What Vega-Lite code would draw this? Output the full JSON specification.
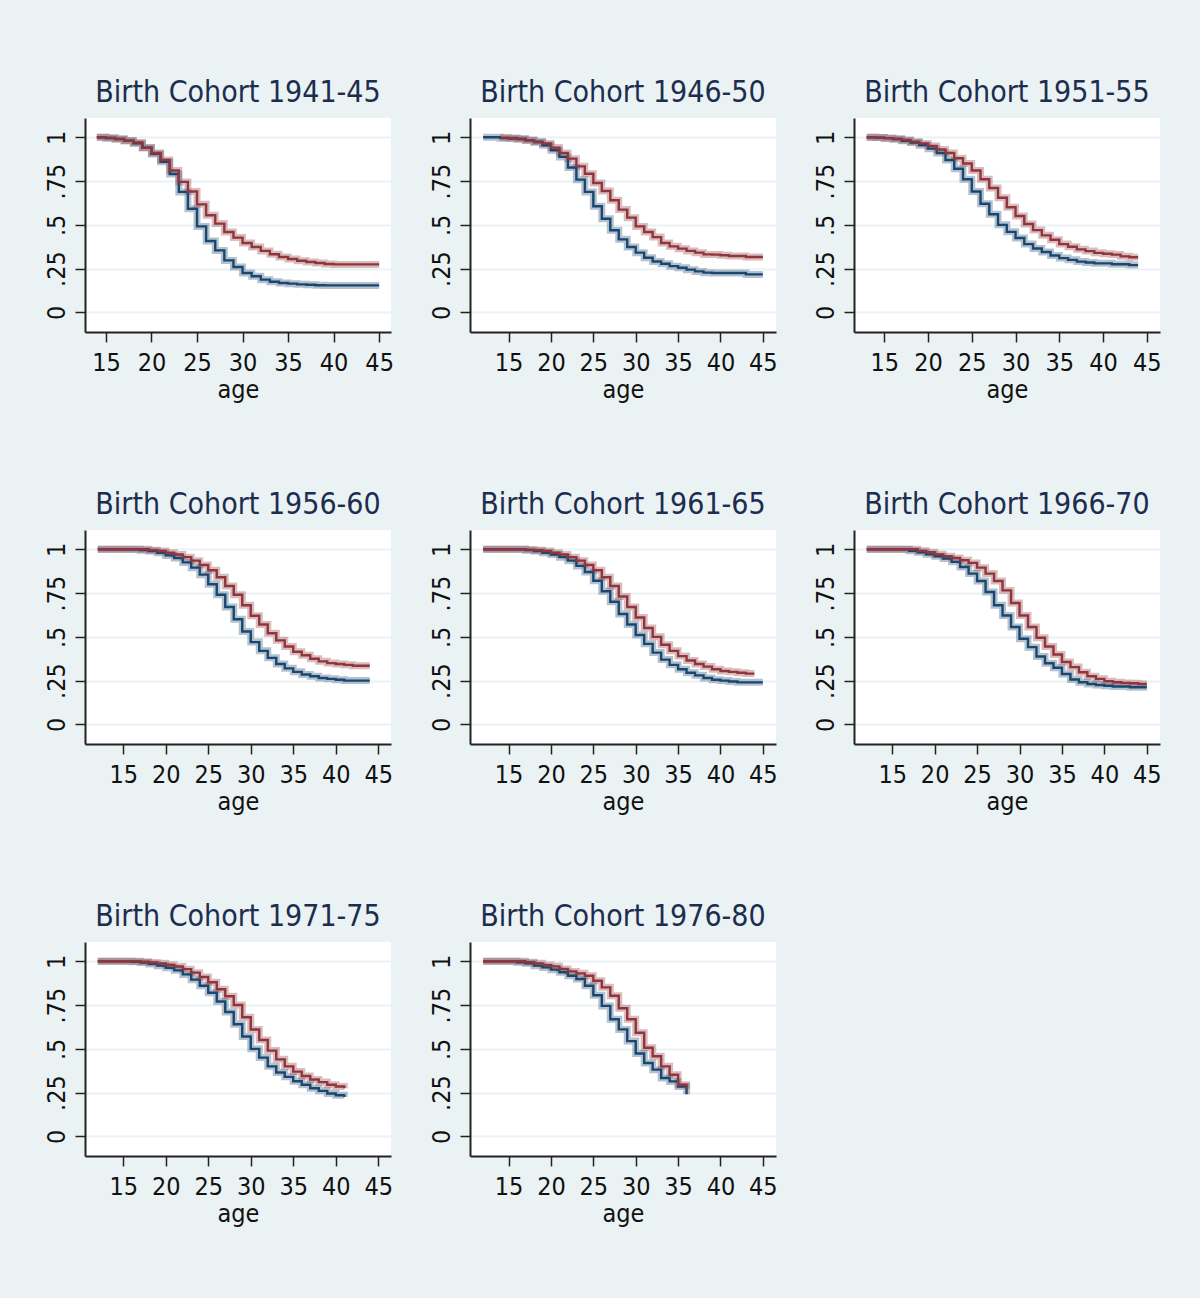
{
"$schema": "https://vega.github.io/schema/vega-lite/v6.json",
"background": "#EAF2F3",
"padding": {"left": 44, "top": 78, "right": 50, "bottom": 80},
"columns": 3,
"spacing": {"row": 88, "column": 35},
"datasets": {"km": [
{"cohort":"1941-45","age":14,"blue":1,"red":1},
{"cohort":"1941-45","age":15,"blue":0.996,"red":0.996},
{"cohort":"1941-45","age":16,"blue":0.99,"red":0.99},
{"cohort":"1941-45","age":17,"blue":0.98,"red":0.98},
{"cohort":"1941-45","age":18,"blue":0.965,"red":0.97},
{"cohort":"1941-45","age":19,"blue":0.94,"red":0.94},
{"cohort":"1941-45","age":20,"blue":0.905,"red":0.91},
{"cohort":"1941-45","age":21,"blue":0.86,"red":0.87},
{"cohort":"1941-45","age":22,"blue":0.79,"red":0.81},
{"cohort":"1941-45","age":23,"blue":0.688,"red":0.745},
{"cohort":"1941-45","age":24,"blue":0.592,"red":0.69},
{"cohort":"1941-45","age":25,"blue":0.491,"red":0.617},
{"cohort":"1941-45","age":26,"blue":0.408,"red":0.555},
{"cohort":"1941-45","age":27,"blue":0.354,"red":0.507},
{"cohort":"1941-45","age":28,"blue":0.297,"red":0.459},
{"cohort":"1941-45","age":29,"blue":0.259,"red":0.427},
{"cohort":"1941-45","age":30,"blue":0.225,"red":0.396},
{"cohort":"1941-45","age":31,"blue":0.206,"red":0.373},
{"cohort":"1941-45","age":32,"blue":0.187,"red":0.351},
{"cohort":"1941-45","age":33,"blue":0.175,"red":0.332},
{"cohort":"1941-45","age":34,"blue":0.168,"red":0.316},
{"cohort":"1941-45","age":35,"blue":0.164,"red":0.305},
{"cohort":"1941-45","age":36,"blue":0.16,"red":0.295},
{"cohort":"1941-45","age":37,"blue":0.158,"red":0.288},
{"cohort":"1941-45","age":38,"blue":0.155,"red":0.282},
{"cohort":"1941-45","age":39,"blue":0.154,"red":0.276},
{"cohort":"1941-45","age":40,"blue":0.154,"red":0.274},
{"cohort":"1941-45","age":41,"blue":0.154,"red":0.274},
{"cohort":"1941-45","age":42,"blue":0.154,"red":0.274},
{"cohort":"1941-45","age":43,"blue":0.154,"red":0.274},
{"cohort":"1941-45","age":44,"blue":0.154,"red":0.274},
{"cohort":"1941-45","age":45,"blue":0.154,"red":0.274},
{"cohort":"1946-50","age":12,"blue":1,"red":null},
{"cohort":"1946-50","age":13,"blue":1,"red":null},
{"cohort":"1946-50","age":14,"blue":0.995,"red":0.998},
{"cohort":"1946-50","age":15,"blue":0.993,"red":0.996},
{"cohort":"1946-50","age":16,"blue":0.992,"red":0.989},
{"cohort":"1946-50","age":17,"blue":0.983,"red":0.983},
{"cohort":"1946-50","age":18,"blue":0.975,"red":0.971},
{"cohort":"1946-50","age":19,"blue":0.954,"red":0.964},
{"cohort":"1946-50","age":20,"blue":0.926,"red":0.941},
{"cohort":"1946-50","age":21,"blue":0.888,"red":0.91},
{"cohort":"1946-50","age":22,"blue":0.827,"red":0.878},
{"cohort":"1946-50","age":23,"blue":0.758,"red":0.834},
{"cohort":"1946-50","age":24,"blue":0.688,"red":0.792},
{"cohort":"1946-50","age":25,"blue":0.606,"red":0.739},
{"cohort":"1946-50","age":26,"blue":0.535,"red":0.693},
{"cohort":"1946-50","age":27,"blue":0.469,"red":0.64},
{"cohort":"1946-50","age":28,"blue":0.417,"red":0.587},
{"cohort":"1946-50","age":29,"blue":0.373,"red":0.541},
{"cohort":"1946-50","age":30,"blue":0.341,"red":0.491},
{"cohort":"1946-50","age":31,"blue":0.312,"red":0.459},
{"cohort":"1946-50","age":32,"blue":0.291,"red":0.43},
{"cohort":"1946-50","age":33,"blue":0.278,"red":0.396},
{"cohort":"1946-50","age":34,"blue":0.264,"red":0.377},
{"cohort":"1946-50","age":35,"blue":0.255,"red":0.364},
{"cohort":"1946-50","age":36,"blue":0.244,"red":0.351},
{"cohort":"1946-50","age":37,"blue":0.234,"red":0.341},
{"cohort":"1946-50","age":38,"blue":0.227,"red":0.331},
{"cohort":"1946-50","age":39,"blue":0.225,"red":0.33},
{"cohort":"1946-50","age":40,"blue":0.225,"red":0.326},
{"cohort":"1946-50","age":41,"blue":0.225,"red":0.322},
{"cohort":"1946-50","age":42,"blue":0.225,"red":0.322},
{"cohort":"1946-50","age":43,"blue":0.217,"red":0.316},
{"cohort":"1946-50","age":44,"blue":0.217,"red":0.316},
{"cohort":"1946-50","age":45,"blue":0.217,"red":0.316},
{"cohort":"1951-55","age":13,"blue":1,"red":1},
{"cohort":"1951-55","age":14,"blue":0.998,"red":0.998},
{"cohort":"1951-55","age":15,"blue":0.995,"red":0.995},
{"cohort":"1951-55","age":16,"blue":0.99,"red":0.99},
{"cohort":"1951-55","age":17,"blue":0.98,"red":0.985},
{"cohort":"1951-55","age":18,"blue":0.97,"red":0.975},
{"cohort":"1951-55","age":19,"blue":0.955,"red":0.965},
{"cohort":"1951-55","age":20,"blue":0.935,"red":0.95},
{"cohort":"1951-55","age":21,"blue":0.91,"red":0.93},
{"cohort":"1951-55","age":22,"blue":0.87,"red":0.91},
{"cohort":"1951-55","age":23,"blue":0.82,"red":0.88},
{"cohort":"1951-55","age":24,"blue":0.76,"red":0.85},
{"cohort":"1951-55","age":25,"blue":0.69,"red":0.81},
{"cohort":"1951-55","age":26,"blue":0.62,"red":0.76},
{"cohort":"1951-55","age":27,"blue":0.56,"red":0.71},
{"cohort":"1951-55","age":28,"blue":0.5,"red":0.655},
{"cohort":"1951-55","age":29,"blue":0.46,"red":0.6},
{"cohort":"1951-55","age":30,"blue":0.425,"red":0.55},
{"cohort":"1951-55","age":31,"blue":0.39,"red":0.505},
{"cohort":"1951-55","age":32,"blue":0.365,"red":0.47},
{"cohort":"1951-55","age":33,"blue":0.345,"red":0.44},
{"cohort":"1951-55","age":34,"blue":0.325,"red":0.415},
{"cohort":"1951-55","age":35,"blue":0.31,"red":0.39},
{"cohort":"1951-55","age":36,"blue":0.3,"red":0.375},
{"cohort":"1951-55","age":37,"blue":0.29,"red":0.36},
{"cohort":"1951-55","age":38,"blue":0.285,"red":0.35},
{"cohort":"1951-55","age":39,"blue":0.28,"red":0.34},
{"cohort":"1951-55","age":40,"blue":0.28,"red":0.335},
{"cohort":"1951-55","age":41,"blue":0.275,"red":0.33},
{"cohort":"1951-55","age":42,"blue":0.275,"red":0.32},
{"cohort":"1951-55","age":43,"blue":0.27,"red":0.315},
{"cohort":"1951-55","age":44,"blue":0.27,"red":0.315},
{"cohort":"1956-60","age":12,"blue":1,"red":1},
{"cohort":"1956-60","age":13,"blue":1,"red":1},
{"cohort":"1956-60","age":14,"blue":1,"red":1},
{"cohort":"1956-60","age":15,"blue":1,"red":1},
{"cohort":"1956-60","age":16,"blue":1,"red":1},
{"cohort":"1956-60","age":17,"blue":0.995,"red":1},
{"cohort":"1956-60","age":18,"blue":0.99,"red":0.995},
{"cohort":"1956-60","age":19,"blue":0.98,"red":0.99},
{"cohort":"1956-60","age":20,"blue":0.965,"red":0.98},
{"cohort":"1956-60","age":21,"blue":0.95,"red":0.97},
{"cohort":"1956-60","age":22,"blue":0.925,"red":0.955},
{"cohort":"1956-60","age":23,"blue":0.895,"red":0.935},
{"cohort":"1956-60","age":24,"blue":0.855,"red":0.91},
{"cohort":"1956-60","age":25,"blue":0.8,"red":0.88},
{"cohort":"1956-60","age":26,"blue":0.74,"red":0.84},
{"cohort":"1956-60","age":27,"blue":0.67,"red":0.79},
{"cohort":"1956-60","age":28,"blue":0.6,"red":0.74},
{"cohort":"1956-60","age":29,"blue":0.53,"red":0.68},
{"cohort":"1956-60","age":30,"blue":0.47,"red":0.62},
{"cohort":"1956-60","age":31,"blue":0.42,"red":0.57},
{"cohort":"1956-60","age":32,"blue":0.38,"red":0.52},
{"cohort":"1956-60","age":33,"blue":0.345,"red":0.48},
{"cohort":"1956-60","age":34,"blue":0.32,"red":0.445},
{"cohort":"1956-60","age":35,"blue":0.3,"red":0.415},
{"cohort":"1956-60","age":36,"blue":0.285,"red":0.395},
{"cohort":"1956-60","age":37,"blue":0.275,"red":0.375},
{"cohort":"1956-60","age":38,"blue":0.265,"red":0.36},
{"cohort":"1956-60","age":39,"blue":0.26,"red":0.35},
{"cohort":"1956-60","age":40,"blue":0.255,"red":0.345},
{"cohort":"1956-60","age":41,"blue":0.25,"red":0.34},
{"cohort":"1956-60","age":42,"blue":0.25,"red":0.335},
{"cohort":"1956-60","age":43,"blue":0.25,"red":0.335},
{"cohort":"1956-60","age":44,"blue":0.25,"red":0.335},
{"cohort":"1961-65","age":12,"blue":1,"red":1},
{"cohort":"1961-65","age":13,"blue":1,"red":1},
{"cohort":"1961-65","age":14,"blue":1,"red":1},
{"cohort":"1961-65","age":15,"blue":1,"red":1},
{"cohort":"1961-65","age":16,"blue":1,"red":1},
{"cohort":"1961-65","age":17,"blue":0.995,"red":0.998},
{"cohort":"1961-65","age":18,"blue":0.99,"red":0.995},
{"cohort":"1961-65","age":19,"blue":0.98,"red":0.99},
{"cohort":"1961-65","age":20,"blue":0.97,"red":0.98},
{"cohort":"1961-65","age":21,"blue":0.955,"red":0.97},
{"cohort":"1961-65","age":22,"blue":0.935,"red":0.955},
{"cohort":"1961-65","age":23,"blue":0.905,"red":0.935},
{"cohort":"1961-65","age":24,"blue":0.87,"red":0.91},
{"cohort":"1961-65","age":25,"blue":0.82,"red":0.88},
{"cohort":"1961-65","age":26,"blue":0.76,"red":0.84},
{"cohort":"1961-65","age":27,"blue":0.7,"red":0.79},
{"cohort":"1961-65","age":28,"blue":0.63,"red":0.73},
{"cohort":"1961-65","age":29,"blue":0.57,"red":0.67},
{"cohort":"1961-65","age":30,"blue":0.51,"red":0.61},
{"cohort":"1961-65","age":31,"blue":0.46,"red":0.55},
{"cohort":"1961-65","age":32,"blue":0.41,"red":0.5},
{"cohort":"1961-65","age":33,"blue":0.37,"red":0.455},
{"cohort":"1961-65","age":34,"blue":0.34,"red":0.42},
{"cohort":"1961-65","age":35,"blue":0.315,"red":0.39},
{"cohort":"1961-65","age":36,"blue":0.295,"red":0.365},
{"cohort":"1961-65","age":37,"blue":0.28,"red":0.345},
{"cohort":"1961-65","age":38,"blue":0.265,"red":0.33},
{"cohort":"1961-65","age":39,"blue":0.255,"red":0.315},
{"cohort":"1961-65","age":40,"blue":0.25,"red":0.305},
{"cohort":"1961-65","age":41,"blue":0.245,"red":0.3},
{"cohort":"1961-65","age":42,"blue":0.24,"red":0.295},
{"cohort":"1961-65","age":43,"blue":0.24,"red":0.29},
{"cohort":"1961-65","age":44,"blue":0.24,"red":0.29},
{"cohort":"1961-65","age":45,"blue":0.24,"red":null},
{"cohort":"1966-70","age":12,"blue":1,"red":1},
{"cohort":"1966-70","age":13,"blue":1,"red":1},
{"cohort":"1966-70","age":14,"blue":1,"red":1},
{"cohort":"1966-70","age":15,"blue":1,"red":1},
{"cohort":"1966-70","age":16,"blue":1,"red":1},
{"cohort":"1966-70","age":17,"blue":0.991,"red":1},
{"cohort":"1966-70","age":18,"blue":0.983,"red":0.991},
{"cohort":"1966-70","age":19,"blue":0.971,"red":0.983},
{"cohort":"1966-70","age":20,"blue":0.96,"red":0.971},
{"cohort":"1966-70","age":21,"blue":0.947,"red":0.96},
{"cohort":"1966-70","age":22,"blue":0.928,"red":0.95},
{"cohort":"1966-70","age":23,"blue":0.899,"red":0.937},
{"cohort":"1966-70","age":24,"blue":0.861,"red":0.922},
{"cohort":"1966-70","age":25,"blue":0.819,"red":0.895},
{"cohort":"1966-70","age":26,"blue":0.756,"red":0.861},
{"cohort":"1966-70","age":27,"blue":0.68,"red":0.819},
{"cohort":"1966-70","age":28,"blue":0.622,"red":0.765},
{"cohort":"1966-70","age":29,"blue":0.556,"red":0.693},
{"cohort":"1966-70","age":30,"blue":0.489,"red":0.622},
{"cohort":"1966-70","age":31,"blue":0.441,"red":0.556},
{"cohort":"1966-70","age":32,"blue":0.388,"red":0.495},
{"cohort":"1966-70","age":33,"blue":0.349,"red":0.445},
{"cohort":"1966-70","age":34,"blue":0.323,"red":0.399},
{"cohort":"1966-70","age":35,"blue":0.288,"red":0.356},
{"cohort":"1966-70","age":36,"blue":0.256,"red":0.327},
{"cohort":"1966-70","age":37,"blue":0.241,"red":0.298},
{"cohort":"1966-70","age":38,"blue":0.231,"red":0.275},
{"cohort":"1966-70","age":39,"blue":0.225,"red":0.26},
{"cohort":"1966-70","age":40,"blue":0.221,"red":0.247},
{"cohort":"1966-70","age":41,"blue":0.216,"red":0.241},
{"cohort":"1966-70","age":42,"blue":0.216,"red":0.237},
{"cohort":"1966-70","age":43,"blue":0.212,"red":0.235},
{"cohort":"1966-70","age":44,"blue":0.212,"red":0.231},
{"cohort":"1966-70","age":45,"blue":0.212,"red":0.231},
{"cohort":"1971-75","age":12,"blue":1,"red":1},
{"cohort":"1971-75","age":13,"blue":1,"red":1},
{"cohort":"1971-75","age":14,"blue":1,"red":1},
{"cohort":"1971-75","age":15,"blue":1,"red":1},
{"cohort":"1971-75","age":16,"blue":0.997,"red":1},
{"cohort":"1971-75","age":17,"blue":0.993,"red":0.997},
{"cohort":"1971-75","age":18,"blue":0.985,"red":0.993},
{"cohort":"1971-75","age":19,"blue":0.975,"red":0.988},
{"cohort":"1971-75","age":20,"blue":0.963,"red":0.98},
{"cohort":"1971-75","age":21,"blue":0.948,"red":0.97},
{"cohort":"1971-75","age":22,"blue":0.925,"red":0.955},
{"cohort":"1971-75","age":23,"blue":0.895,"red":0.935},
{"cohort":"1971-75","age":24,"blue":0.86,"red":0.91},
{"cohort":"1971-75","age":25,"blue":0.82,"red":0.88},
{"cohort":"1971-75","age":26,"blue":0.77,"red":0.84},
{"cohort":"1971-75","age":27,"blue":0.71,"red":0.8},
{"cohort":"1971-75","age":28,"blue":0.64,"red":0.75},
{"cohort":"1971-75","age":29,"blue":0.57,"red":0.68},
{"cohort":"1971-75","age":30,"blue":0.5,"red":0.61},
{"cohort":"1971-75","age":31,"blue":0.45,"red":0.55},
{"cohort":"1971-75","age":32,"blue":0.4,"red":0.49},
{"cohort":"1971-75","age":33,"blue":0.365,"red":0.44},
{"cohort":"1971-75","age":34,"blue":0.34,"red":0.4},
{"cohort":"1971-75","age":35,"blue":0.315,"red":0.37},
{"cohort":"1971-75","age":36,"blue":0.295,"red":0.345},
{"cohort":"1971-75","age":37,"blue":0.275,"red":0.325},
{"cohort":"1971-75","age":38,"blue":0.26,"red":0.31},
{"cohort":"1971-75","age":39,"blue":0.245,"red":0.295},
{"cohort":"1971-75","age":40,"blue":0.235,"red":0.285},
{"cohort":"1971-75","age":41,"blue":0.225,"red":0.275},
{"cohort":"1976-80","age":12,"blue":1,"red":1},
{"cohort":"1976-80","age":13,"blue":1,"red":1},
{"cohort":"1976-80","age":14,"blue":1,"red":1},
{"cohort":"1976-80","age":15,"blue":1,"red":1},
{"cohort":"1976-80","age":16,"blue":0.994,"red":1},
{"cohort":"1976-80","age":17,"blue":0.988,"red":0.994},
{"cohort":"1976-80","age":18,"blue":0.975,"red":0.988},
{"cohort":"1976-80","age":19,"blue":0.965,"red":0.979},
{"cohort":"1976-80","age":20,"blue":0.952,"red":0.971},
{"cohort":"1976-80","age":21,"blue":0.937,"red":0.956},
{"cohort":"1976-80","age":22,"blue":0.917,"red":0.942},
{"cohort":"1976-80","age":23,"blue":0.899,"red":0.931},
{"cohort":"1976-80","age":24,"blue":0.86,"red":0.917},
{"cohort":"1976-80","age":25,"blue":0.806,"red":0.889},
{"cohort":"1976-80","age":26,"blue":0.745,"red":0.851},
{"cohort":"1976-80","age":27,"blue":0.669,"red":0.803},
{"cohort":"1976-80","age":28,"blue":0.611,"red":0.732},
{"cohort":"1976-80","age":29,"blue":0.544,"red":0.669},
{"cohort":"1976-80","age":30,"blue":0.473,"red":0.592},
{"cohort":"1976-80","age":31,"blue":0.419,"red":0.506},
{"cohort":"1976-80","age":32,"blue":0.381,"red":0.458},
{"cohort":"1976-80","age":33,"blue":0.333,"red":0.4},
{"cohort":"1976-80","age":34,"blue":0.314,"red":0.352},
{"cohort":"1976-80","age":35,"blue":0.285,"red":0.295},
{"cohort":"1976-80","age":36,"blue":0.24,"red":0.27}
]},
"concat": [
{"title":"Birth Cohort 1941-45","width":306,"height":214,"data":{"name":"km"},
 "transform":[{"filter":"datum.cohort == '1941-45'"},{"fold":["blue","red"],"as":["group","surv"]}],
 "encoding":{"x":{"field":"age","type":"quantitative","title":"age","scale":{"domain":[12.7,46.3],"nice":false,"zero":false},"axis":{"values":[15,20,25,30,35,40,45]}},
  "y":{"field":"surv","type":"quantitative","title":null,"scale":{"domain":[-0.112,1.11],"nice":false},"axis":{"values":[0,0.25,0.5,0.75,1]}},
  "color":{"field":"group","type":"nominal","scale":{"domain":["blue","red"],"range":["#1A476F","#90353B"]},"legend":null}},
 "layer":[{"mark":{"type":"line","interpolate":"step-after","strokeWidth":7,"opacity":0.33}},{"mark":{"type":"line","interpolate":"step-after","strokeWidth":2.4}}]},
{"title":"Birth Cohort 1946-50","width":306,"height":214,"data":{"name":"km"},
 "transform":[{"filter":"datum.cohort == '1946-50'"},{"fold":["blue","red"],"as":["group","surv"]}],
 "encoding":{"x":{"field":"age","type":"quantitative","title":"age","scale":{"domain":[10.45,46.55],"nice":false,"zero":false},"axis":{"values":[15,20,25,30,35,40,45]}},
  "y":{"field":"surv","type":"quantitative","title":null,"scale":{"domain":[-0.112,1.11],"nice":false},"axis":{"values":[0,0.25,0.5,0.75,1]}},
  "color":{"field":"group","type":"nominal","scale":{"domain":["blue","red"],"range":["#1A476F","#90353B"]},"legend":null}},
 "layer":[{"mark":{"type":"line","interpolate":"step-after","strokeWidth":7,"opacity":0.33}},{"mark":{"type":"line","interpolate":"step-after","strokeWidth":2.4}}]},
{"title":"Birth Cohort 1951-55","width":306,"height":214,"data":{"name":"km"},
 "transform":[{"filter":"datum.cohort == '1951-55'"},{"fold":["blue","red"],"as":["group","surv"]}],
 "encoding":{"x":{"field":"age","type":"quantitative","title":"age","scale":{"domain":[11.55,46.5],"nice":false,"zero":false},"axis":{"values":[15,20,25,30,35,40,45]}},
  "y":{"field":"surv","type":"quantitative","title":null,"scale":{"domain":[-0.112,1.11],"nice":false},"axis":{"values":[0,0.25,0.5,0.75,1]}},
  "color":{"field":"group","type":"nominal","scale":{"domain":["blue","red"],"range":["#1A476F","#90353B"]},"legend":null}},
 "layer":[{"mark":{"type":"line","interpolate":"step-after","strokeWidth":7,"opacity":0.33}},{"mark":{"type":"line","interpolate":"step-after","strokeWidth":2.4}}]},
{"title":"Birth Cohort 1956-60","width":306,"height":214,"data":{"name":"km"},
 "transform":[{"filter":"datum.cohort == '1956-60'"},{"fold":["blue","red"],"as":["group","surv"]}],
 "encoding":{"x":{"field":"age","type":"quantitative","title":"age","scale":{"domain":[10.5,46.5],"nice":false,"zero":false},"axis":{"values":[15,20,25,30,35,40,45]}},
  "y":{"field":"surv","type":"quantitative","title":null,"scale":{"domain":[-0.112,1.11],"nice":false},"axis":{"values":[0,0.25,0.5,0.75,1]}},
  "color":{"field":"group","type":"nominal","scale":{"domain":["blue","red"],"range":["#1A476F","#90353B"]},"legend":null}},
 "layer":[{"mark":{"type":"line","interpolate":"step-after","strokeWidth":7,"opacity":0.33}},{"mark":{"type":"line","interpolate":"step-after","strokeWidth":2.4}}]},
{"title":"Birth Cohort 1961-65","width":306,"height":214,"data":{"name":"km"},
 "transform":[{"filter":"datum.cohort == '1961-65'"},{"fold":["blue","red"],"as":["group","surv"]}],
 "encoding":{"x":{"field":"age","type":"quantitative","title":"age","scale":{"domain":[10.45,46.55],"nice":false,"zero":false},"axis":{"values":[15,20,25,30,35,40,45]}},
  "y":{"field":"surv","type":"quantitative","title":null,"scale":{"domain":[-0.112,1.11],"nice":false},"axis":{"values":[0,0.25,0.5,0.75,1]}},
  "color":{"field":"group","type":"nominal","scale":{"domain":["blue","red"],"range":["#1A476F","#90353B"]},"legend":null}},
 "layer":[{"mark":{"type":"line","interpolate":"step-after","strokeWidth":7,"opacity":0.33}},{"mark":{"type":"line","interpolate":"step-after","strokeWidth":2.4}}]},
{"title":"Birth Cohort 1966-70","width":306,"height":214,"data":{"name":"km"},
 "transform":[{"filter":"datum.cohort == '1966-70'"},{"fold":["blue","red"],"as":["group","surv"]}],
 "encoding":{"x":{"field":"age","type":"quantitative","title":"age","scale":{"domain":[10.5,46.55],"nice":false,"zero":false},"axis":{"values":[15,20,25,30,35,40,45]}},
  "y":{"field":"surv","type":"quantitative","title":null,"scale":{"domain":[-0.112,1.11],"nice":false},"axis":{"values":[0,0.25,0.5,0.75,1]}},
  "color":{"field":"group","type":"nominal","scale":{"domain":["blue","red"],"range":["#1A476F","#90353B"]},"legend":null}},
 "layer":[{"mark":{"type":"line","interpolate":"step-after","strokeWidth":7,"opacity":0.33}},{"mark":{"type":"line","interpolate":"step-after","strokeWidth":2.4}}]},
{"title":"Birth Cohort 1971-75","width":306,"height":214,"data":{"name":"km"},
 "transform":[{"filter":"datum.cohort == '1971-75'"},{"fold":["blue","red"],"as":["group","surv"]}],
 "encoding":{"x":{"field":"age","type":"quantitative","title":"age","scale":{"domain":[10.5,46.5],"nice":false,"zero":false},"axis":{"values":[15,20,25,30,35,40,45]}},
  "y":{"field":"surv","type":"quantitative","title":null,"scale":{"domain":[-0.112,1.11],"nice":false},"axis":{"values":[0,0.25,0.5,0.75,1]}},
  "color":{"field":"group","type":"nominal","scale":{"domain":["blue","red"],"range":["#1A476F","#90353B"]},"legend":null}},
 "layer":[{"mark":{"type":"line","interpolate":"step-after","strokeWidth":7,"opacity":0.33}},{"mark":{"type":"line","interpolate":"step-after","strokeWidth":2.4}}]},
{"title":"Birth Cohort 1976-80","width":306,"height":214,"data":{"name":"km"},
 "transform":[{"filter":"datum.cohort == '1976-80'"},{"fold":["blue","red"],"as":["group","surv"]}],
 "encoding":{"x":{"field":"age","type":"quantitative","title":"age","scale":{"domain":[10.45,46.55],"nice":false,"zero":false},"axis":{"values":[15,20,25,30,35,40,45]}},
  "y":{"field":"surv","type":"quantitative","title":null,"scale":{"domain":[-0.112,1.11],"nice":false},"axis":{"values":[0,0.25,0.5,0.75,1]}},
  "color":{"field":"group","type":"nominal","scale":{"domain":["blue","red"],"range":["#1A476F","#90353B"]},"legend":null}},
 "layer":[{"mark":{"type":"line","interpolate":"step-after","strokeWidth":7,"opacity":0.33}},{"mark":{"type":"line","interpolate":"step-after","strokeWidth":2.4}}]}
],
"config": {
 "font": "DejaVu Sans Condensed, Liberation Sans, sans-serif",
 "view": {"fill": "white", "stroke": null},
 "title": {"fontSize": 30, "fontWeight": "normal", "color": "#1c2d4f", "anchor": "middle", "offset": 10, "font": "DejaVu Sans Condensed, Liberation Sans, sans-serif"},
 "axis": {"domainColor": "#222", "domainWidth": 2, "tickColor": "#222", "tickWidth": 1.5, "tickSize": 10, "labelFontSize": 25, "labelColor": "#111", "titleFontSize": 25, "titleFontWeight": "normal", "titleColor": "#111", "gridColor": "#EAF2F3", "gridWidth": 2, "labelFont": "DejaVu Sans Condensed, Liberation Sans, sans-serif", "titleFont": "DejaVu Sans Condensed, Liberation Sans, sans-serif"},
 "axisX": {"grid": false, "labelPadding": 8, "titlePadding": 2, "labelFlush": false, "labelOverlap": false},
 "axisY": {"grid": true, "labelAngle": 270, "labelPadding": 6, "labelFontSize": 25, "labelOverlap": false, "labelExpr": "datum.value == 0 ? '0' : datum.value == 1 ? '1' : replace(format(datum.value, '.2~f'), '0.', '.')"}
}
}
